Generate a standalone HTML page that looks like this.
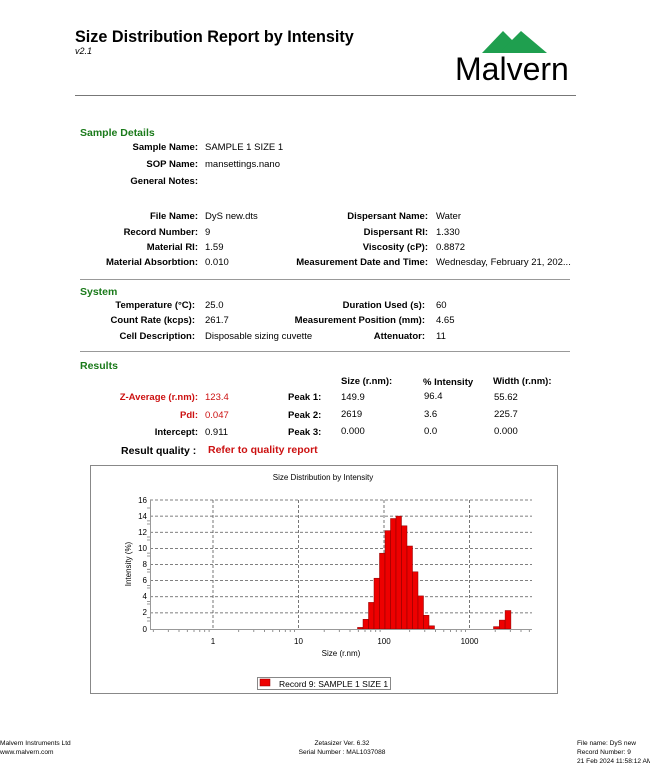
<!DOCTYPE html>
<html><head><meta charset="utf-8"><style>
body{margin:0;background:#fff;}
#p{position:relative;width:650px;height:765px;overflow:hidden;font-family:"Liberation Sans",Arial,sans-serif;color:#000;}
.t{position:absolute;font-size:9.5px;line-height:12px;white-space:nowrap;}
.b{font-weight:bold;}
.r{text-align:right;}
.g{color:#1a7a1a;font-weight:bold;font-size:10.5px;}
.red{color:#cc1111;}
.hr{position:absolute;height:1px;background:#999;}
</style></head><body><div id="p">
<div class="t b" style="left:75px;top:27px;font-size:16.2px;line-height:20px;">Size Distribution Report by Intensity</div>
<div class="t" style="left:75px;top:45px;font-style:italic;font-size:9px;">v2.1</div>
<svg style="position:absolute;left:0;top:0" width="650" height="100">
<polygon points="482,53 503,31 517,45 509,53" fill="#1f9f4f"/>
<polygon points="499,53 521,31 547,53" fill="#1f9f4f"/>
</svg>
<div class="t" style="left:455px;top:52px;font-size:32px;line-height:34px;">Malvern</div>
<div class="hr" style="left:75px;top:95px;width:501px;background:#777;"></div>

<div class="t g" style="left:80px;top:127px;">Sample Details</div>
<div class="t b r" style="right:452px;top:142px;">Sample Name:</div><div class="t" style="left:205px;top:142px;">SAMPLE 1 SIZE 1</div>
<div class="t b r" style="right:452px;top:159px;">SOP Name:</div><div class="t" style="left:205px;top:159px;">mansettings.nano</div>
<div class="t b r" style="right:452px;top:176px;">General Notes:</div>
<div class="t b r" style="right:452px;top:211px;">File Name:</div><div class="t" style="left:205px;top:211px;">DyS new.dts</div>
<div class="t b r" style="right:452px;top:227px;">Record Number:</div><div class="t" style="left:205px;top:227px;">9</div>
<div class="t b r" style="right:452px;top:242px;">Material RI:</div><div class="t" style="left:205px;top:242px;">1.59</div>
<div class="t b r" style="right:452px;top:257px;">Material Absorbtion:</div><div class="t" style="left:205px;top:257px;">0.010</div>
<div class="t b r" style="right:222px;top:211px;">Dispersant Name:</div><div class="t" style="left:436px;top:211px;">Water</div>
<div class="t b r" style="right:222px;top:227px;">Dispersant RI:</div><div class="t" style="left:436px;top:227px;">1.330</div>
<div class="t b r" style="right:222px;top:242px;">Viscosity (cP):</div><div class="t" style="left:436px;top:242px;">0.8872</div>
<div class="t b r" style="right:222px;top:257px;">Measurement Date and Time:</div><div class="t" style="left:436px;top:257px;">Wednesday, February 21, 202...</div>
<div class="hr" style="left:80px;top:279px;width:490px;"></div>

<div class="t g" style="left:80px;top:286px;">System</div>
<div class="t b r" style="right:455px;top:300px;">Temperature (°C):</div><div class="t" style="left:205px;top:300px;">25.0</div>
<div class="t b r" style="right:455px;top:315px;">Count Rate (kcps):</div><div class="t" style="left:205px;top:315px;">261.7</div>
<div class="t b r" style="right:455px;top:331px;">Cell Description:</div><div class="t" style="left:205px;top:331px;">Disposable sizing cuvette</div>
<div class="t b r" style="right:225px;top:300px;">Duration Used (s):</div><div class="t" style="left:436px;top:300px;">60</div>
<div class="t b r" style="right:225px;top:315px;">Measurement Position (mm):</div><div class="t" style="left:436px;top:315px;">4.65</div>
<div class="t b r" style="right:225px;top:331px;">Attenuator:</div><div class="t" style="left:436px;top:331px;">11</div>
<div class="hr" style="left:80px;top:351px;width:490px;"></div>

<div class="t g" style="left:80px;top:360px;">Results</div>
<div class="t b" style="left:341px;top:376px;">Size (r.nm):</div>
<div class="t b" style="left:423px;top:377px;">% Intensity</div>
<div class="t b" style="left:493px;top:376px;">Width (r.nm):</div>
<div class="t b r red" style="right:452px;top:392px;">Z-Average (r.nm):</div><div class="t red" style="left:205px;top:392px;">123.4</div>
<div class="t b r red" style="right:452px;top:410px;">PdI:</div><div class="t red" style="left:205px;top:410px;">0.047</div>
<div class="t b r" style="right:452px;top:427px;">Intercept:</div><div class="t" style="left:205px;top:427px;">0.911</div>
<div class="t b" style="left:288px;top:392px;">Peak 1:</div><div class="t" style="left:341px;top:392px;">149.9</div><div class="t" style="left:424px;top:391px;">96.4</div><div class="t" style="left:494px;top:392px;">55.62</div>
<div class="t b" style="left:288px;top:410px;">Peak 2:</div><div class="t" style="left:341px;top:409px;">2619</div><div class="t" style="left:424px;top:409px;">3.6</div><div class="t" style="left:494px;top:409px;">225.7</div>
<div class="t b" style="left:288px;top:427px;">Peak 3:</div><div class="t" style="left:341px;top:426px;">0.000</div><div class="t" style="left:424px;top:426px;">0.0</div><div class="t" style="left:494px;top:426px;">0.000</div>
<div class="t b" style="left:121px;top:445px;font-size:10.5px;">Result quality :</div>
<div class="t b red" style="left:208px;top:444px;font-size:10.5px;">Refer to quality report</div>

<svg style="position:absolute;left:0;top:0" width="650" height="765" font-family="Liberation Sans, Arial, sans-serif">
<rect x="90.5" y="465.5" width="467" height="228" fill="#fff" stroke="#888"/>
<text x="323" y="480" font-size="8" text-anchor="middle">Size Distribution by Intensity</text>
<g stroke="#555" stroke-dasharray="3,2" stroke-width="0.8">
<line x1="150" y1="500" x2="532" y2="500"/><line x1="150" y1="516.1" x2="532" y2="516.1"/><line x1="150" y1="532.25" x2="532" y2="532.25"/><line x1="150" y1="548.4" x2="532" y2="548.4"/><line x1="150" y1="564.5" x2="532" y2="564.5"/><line x1="150" y1="580.6" x2="532" y2="580.6"/><line x1="150" y1="596.75" x2="532" y2="596.75"/><line x1="150" y1="612.9" x2="532" y2="612.9"/>
<line x1="213" y1="500" x2="213" y2="629"/><line x1="298.5" y1="500" x2="298.5" y2="629"/><line x1="384" y1="500" x2="384" y2="629"/><line x1="469.5" y1="500" x2="469.5" y2="629"/>
</g>
<g stroke="#777" stroke-width="0.8">
<path d="M150 520.9h-3M150 537h-3M150 553.1h-3M150 569.3h-3M150 585.4h-3M150 601.5h-3M150 617.7h-3M150 508h-3M150 524h-3M150 540h-3M150 556h-3M150 572h-3M150 588h-3M150 604h-3M150 621h-3"/>
<path d="M238.7 629v3M253.8 629v3M264.5 629v3M272.8 629v3M279.5 629v3M285.3 629v3M290.2 629v3M294.6 629v3M324.2 629v3M339.3 629v3M350 629v3M358.3 629v3M365 629v3M370.8 629v3M375.7 629v3M380.1 629v3M409.7 629v3M424.8 629v3M435.5 629v3M443.8 629v3M450.5 629v3M456.3 629v3M461.2 629v3M465.6 629v3M495.2 629v3M510.3 629v3M521 629v3M529.3 629v3M153.3 629v3M168.3 629v3M179 629v3M187.3 629v3M194 629v3M199.8 629v3M204.7 629v3M209.1 629v3"/>
</g>
<g fill="#ee0000" stroke="#880000" stroke-width="0.5">
<rect x="357.5" y="627.4" width="5.5" height="1.6"/><rect x="363" y="619.3" width="5.5" height="9.7"/><rect x="368.5" y="602.4" width="5.5" height="26.6"/><rect x="374" y="578.2" width="5.5" height="50.8"/><rect x="379.5" y="553.2" width="5.5" height="75.8"/><rect x="385" y="530.6" width="5.5" height="98.4"/><rect x="390.5" y="518.5" width="5.5" height="110.5"/><rect x="396" y="516.1" width="5.5" height="112.9"/><rect x="401.5" y="525.8" width="5.5" height="103.2"/><rect x="407" y="546" width="5.5" height="83"/><rect x="412.5" y="571.8" width="5.5" height="57.2"/><rect x="418" y="595.9" width="5.5" height="33.1"/><rect x="423.5" y="615.3" width="5.5" height="13.7"/><rect x="429" y="625.8" width="5.5" height="3.2"/>
<rect x="493.5" y="626.6" width="5.8" height="2.4"/><rect x="499.3" y="620.1" width="5.8" height="8.9"/><rect x="505.1" y="610.5" width="5.8" height="18.5"/>
</g>
<line x1="150" y1="629.5" x2="532" y2="629.5" stroke="#999"/>
<line x1="150.5" y1="500" x2="150.5" y2="630" stroke="#999"/>
<g font-size="8" text-anchor="end">
<text x="147" y="503">16</text><text x="147" y="519">14</text><text x="147" y="535">12</text><text x="147" y="551">10</text><text x="147" y="567">8</text><text x="147" y="583">6</text><text x="147" y="599">4</text><text x="147" y="615">2</text><text x="147" y="632">0</text>
</g>
<g font-size="8" text-anchor="middle">
<text x="213" y="644">1</text><text x="298.5" y="644">10</text><text x="384" y="644">100</text><text x="469.5" y="644">1000</text>
<text x="341" y="656">Size (r.nm)</text>
</g>
<text x="0" y="0" font-size="8" text-anchor="middle" transform="translate(131,564) rotate(-90)">Intensity (%)</text>
<rect x="257.5" y="677.5" width="133" height="12" fill="#fff" stroke="#888"/>
<rect x="260" y="679" width="10" height="7" fill="#ee0000" stroke="#880000" stroke-width="0.5"/>
<text x="279" y="687" font-size="8.5">Record 9: SAMPLE 1 SIZE 1</text>
</svg>

<div class="t" style="left:0;top:739px;font-size:6.6px;line-height:9px;">Malvern Instruments Ltd<br>www.malvern.com</div>
<div class="t" style="left:297px;top:739px;font-size:6.6px;line-height:9px;text-align:center;width:90px;">Zetasizer Ver. 6.32<br>Serial Number : MAL1037088</div>
<div class="t" style="left:577px;top:739px;font-size:6.6px;line-height:9px;">File name: DyS new<br>Record Number: 9<br>21 Feb 2024 11:58:12 AM</div>
</div></body></html>
